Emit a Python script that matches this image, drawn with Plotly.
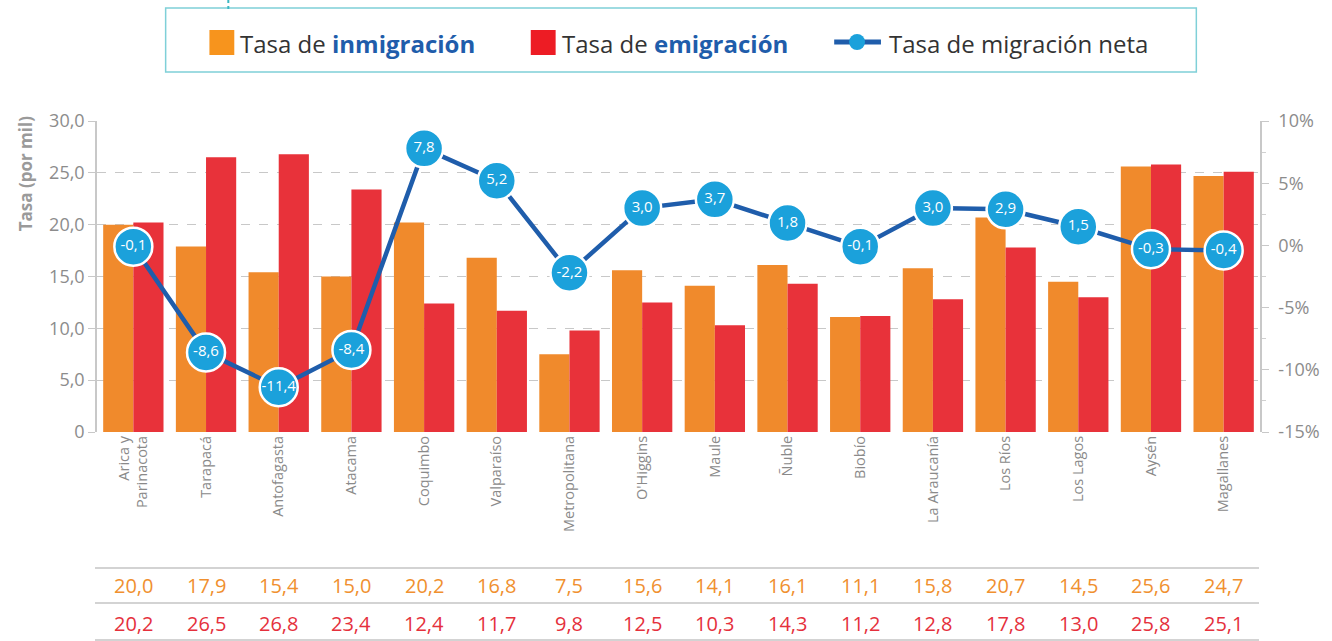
import plotly.graph_objects as go

# Regiones de Chile
regiones = ["Arica y<br>Parinacota", "Tarapacá", "Antofagasta", "Atacama", "Coquimbo",
            "Valparaíso", "Metropolitana", "O'Higgins", "Maule", "Ñuble", "Biobío",
            "La Araucanía", "Los Ríos", "Los Lagos", "Aysén", "Magallanes"]
inmigracion = [20.0, 17.9, 15.4, 15.0, 20.2, 16.8, 7.5, 15.6, 14.1, 16.1, 11.1, 15.8, 20.7, 14.5, 25.6, 24.7]
emigracion = [20.2, 26.5, 26.8, 23.4, 12.4, 11.7, 9.8, 12.5, 10.3, 14.3, 11.2, 12.8, 17.8, 13.0, 25.8, 25.1]
migracion_neta = [-0.1, -8.6, -11.4, -8.4, 7.8, 5.2, -2.2, 3.0, 3.7, 1.8, -0.1, 3.0, 2.9, 1.5, -0.3, -0.4]

ticks_izq = [0, 5, 10, 15, 20, 25, 30]
ticks_izq_txt = ["0", "5,0", "10,0", "15,0", "20,0", "25,0", "30,0"]
ticks_der = [-15, -10, -5, 0, 5, 10]
ticks_der_txt = ["-15%", "-10%", "-5%", "0%", "5%", "10%"]

NARANJA = "#F08A2C"
ROJO = "#E8323A"
AZUL_OSC = "#1F5DAB"
AZUL = "#1BA1DB"
GRIS = "#8C8C8C"
FUENTE = "Open Sans"

def fmt(v):
    return f"{v:.1f}".replace(".", ",")

# Layout geometry (pixels) for placing decorations in paper coordinates
W, H = 1332, 641
ML, MR, MT, MB = 97, 66, 121, 209
PW, PH = W - ML - MR, H - MT - MB

def xp(px):
    return (px - ML) / PW

def yp(py):
    return (H - MB - py) / PH

fig = go.Figure()
fig.add_trace(go.Bar(x=regiones, y=inmigracion, marker_color=NARANJA, marker_line_width=0,
                     name="Tasa de inmigración", showlegend=False))
fig.add_trace(go.Bar(x=regiones, y=emigracion, marker_color=ROJO, marker_line_width=0,
                     name="Tasa de emigración", showlegend=False))
fig.add_trace(go.Scatter(
    x=regiones, y=migracion_neta, yaxis="y2", mode="lines+markers+text",
    line=dict(color=AZUL_OSC, width=4.5),
    marker=dict(size=38, color=AZUL, line=dict(color="white", width=2.5)),
    text=[fmt(v) for v in migracion_neta], textposition="middle center",
    textfont=dict(color="white", size=15, family=FUENTE),
    name="Tasa de migración neta", showlegend=False, cliponaxis=False))

shapes = []
annotations = []

# Legend box
shapes.append(dict(type="rect", xref="paper", yref="paper", x0=xp(166), x1=xp(1202), y0=yp(72), y1=yp(8),
                   line=dict(color="#7FD0D8", width=1.5), fillcolor="white"))
shapes.append(dict(type="line", xref="paper", yref="paper", x0=xp(229), x1=xp(229), y0=yp(9), y1=yp(0),
                   line=dict(color="#3BB8C4", width=2, dash="dot")))
shapes.append(dict(type="rect", xref="paper", yref="paper", x0=xp(210), x1=xp(235), y0=yp(55), y1=yp(30),
                   line_width=0, fillcolor="#F7941D"))
shapes.append(dict(type="rect", xref="paper", yref="paper", x0=xp(533), x1=xp(558), y0=yp(55), y1=yp(30),
                   line_width=0, fillcolor="#ED1C24"))
shapes.append(dict(type="line", xref="paper", yref="paper", x0=xp(838), x1=xp(885), y0=yp(42), y1=yp(42),
                   line=dict(color=AZUL_OSC, width=5)))
shapes.append(dict(type="circle", xref="paper", yref="paper", x0=xp(853), x1=xp(869), y0=yp(50), y1=yp(34),
                   line_width=0, fillcolor=AZUL))

leg_font = dict(family=FUENTE, size=24, color="#333333")
for x0, txt in [(239, "Tasa de <b><span style='color:#1F5DAB'>inmigración</span></b>"),
                (562, "Tasa de <b><span style='color:#1F5DAB'>emigración</span></b>"),
                (891, "Tasa de migración neta")]:
    annotations.append(dict(xref="paper", yref="paper", x=xp(x0), y=yp(43), text=txt, showarrow=False,
                            xanchor="left", yanchor="middle", font=leg_font))

# Y-axis title
annotations.append(dict(xref="paper", yref="paper", x=xp(25), y=yp(174), text="<b>Tasa (por mil)</b>",
                        textangle=-90, showarrow=False, xanchor="center", yanchor="middle",
                        font=dict(family=FUENTE, size=17, color="#9A9A9A")))

# Data table under the chart
for py in (568, 603, 640):
    shapes.append(dict(type="line", xref="paper", yref="paper", x0=xp(95), x1=xp(1265), y0=yp(py), y1=yp(py),
                       line=dict(color="#C4C4C4", width=1.5)))
for serie, color, py in [(inmigracion, "#F0902F", 585), (emigracion, "#E5303C", 623)]:
    for reg, v in zip(regiones, serie):
        annotations.append(dict(xref="x", yref="paper", x=reg, y=yp(py), text=fmt(v), showarrow=False,
                                xanchor="center", yanchor="middle",
                                font=dict(family=FUENTE, size=20, color=color)))

fig.update_layout(
    width=W, height=H, margin=dict(l=ML, r=MR, t=MT, b=MB),
    paper_bgcolor="white", plot_bgcolor="white",
    barmode="group", bargap=0.17, bargroupgap=0,
    font=dict(family=FUENTE, color=GRIS),
    xaxis=dict(range=[-0.5, len(regiones) - 0.5], tickangle=-90, tickfont=dict(size=14.5, color="#8A8A8A"),
               showline=False, ticks="", showgrid=False, zeroline=False),
    yaxis=dict(range=[0, 30], tickvals=ticks_izq, ticktext=ticks_izq_txt,
               tickfont=dict(size=18, color=GRIS), showline=True, linecolor="#C8C8C8", linewidth=1.5,
               ticks="outside", ticklen=7, tickcolor="#C8C8C8", showgrid=True, gridcolor="#C8C8C8",
               griddash="dash", gridwidth=1, zeroline=False),
    yaxis2=dict(range=[-15, 10], overlaying="y", side="right", tickvals=ticks_der, ticktext=ticks_der_txt,
                tickfont=dict(size=18, color=GRIS), showline=True, linecolor="#C8C8C8", linewidth=1.5,
                ticks="outside", ticklen=7, tickcolor="#C8C8C8", showgrid=False, zeroline=False,
                ticklabelstandoff=6,
                minor=dict(ticks="outside", ticklen=4, dtick=2.5, tick0=-15, tickcolor="#D0D0D0", showgrid=False)),
    shapes=shapes, annotations=annotations,
)

fig.write_html("out.html")
